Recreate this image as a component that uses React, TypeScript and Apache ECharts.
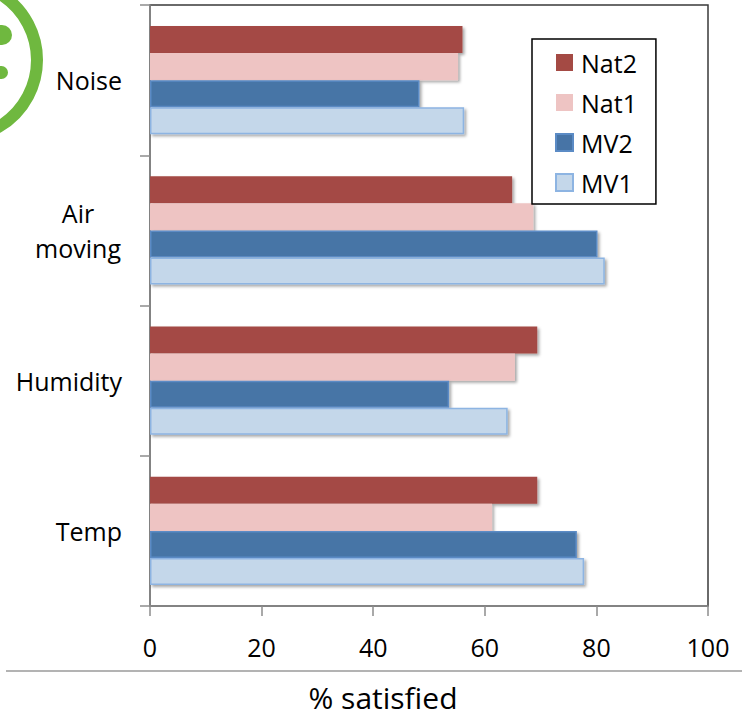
import React, { useEffect, useRef } from "react";
import * as echarts from "echarts";

const categories = ["Temp", "Humidity", "Air moving", "Noise"];
const mv1 = [77.8, 64.1, 81.5, 56.3];
const mv2 = [76.5, 53.6, 80.2, 48.3];
const nat1 = [61.3, 65.4, 68.7, 55.2];
const nat2 = [69.4, 69.4, 64.9, 56.0];
const xTicks = { min: 0, max: 100, interval: 20 };
const legendOrder = ["Nat2", "Nat1", "MV2", "MV1"];
const axisTitle = "% satisfied";

const FONT = "'Open Sans', 'Noto Sans', sans-serif";
const shadow = {
  shadowColor: "rgba(0,0,0,0.35)",
  shadowBlur: 3,
  shadowOffsetX: 2,
  shadowOffsetY: 2,
};

export default function App() {
  const ref = useRef<HTMLDivElement>(null);
  useEffect(() => {
    const chart = echarts.init(ref.current!, null, { renderer: "svg" });
    const mk = (name: string, data: number[], color: string, border?: string) => ({
      name,
      type: "bar",
      data,
      barGap: "0%",
      barCategoryGap: "28%",
      itemStyle: {
        color,
        borderColor: border || color,
        borderWidth: border ? 1.5 : 0,
        ...shadow,
      },
    });
    chart.setOption({
      animation: false,
      textStyle: { fontFamily: FONT },
      grid: {
        left: 150,
        right: 34,
        top: 5,
        bottom: 110,
        show: true,
        borderColor: "#3a3a3a",
        borderWidth: 1.5,
        backgroundColor: "transparent",
      },
      legend: {
        orient: "vertical",
        left: 532,
        top: 39,
        data: legendOrder,
        padding: [11, 19, 9, 23],
        borderColor: "#000",
        borderWidth: 1.5,
        itemWidth: 17,
        itemHeight: 17,
        itemGap: 15,
        icon: "rect",
        itemStyle: { shadowBlur: 0, shadowOffsetX: 0, shadowOffsetY: 0 },
        textStyle: { fontSize: 25, lineHeight: 25, color: "#000", fontFamily: FONT, padding: [0, 0, 0, 3] },
      },
      xAxis: {
        type: "value",
        min: xTicks.min,
        max: xTicks.max,
        interval: xTicks.interval,
        axisLine: { show: true, lineStyle: { color: "#8c8c8c", width: 1.5 } },
        axisTick: { show: true, length: 10, lineStyle: { color: "#8c8c8c", width: 1.5 } },
        splitLine: { show: false },
        axisLabel: { fontSize: 25, lineHeight: 25, color: "#000", margin: 28, fontFamily: FONT },
      },
      yAxis: {
        type: "category",
        data: categories,
        axisLine: { show: true, lineStyle: { color: "#8c8c8c", width: 1.5 } },
        axisTick: { show: true, length: 10, lineStyle: { color: "#8c8c8c", width: 1.5 } },
        axisLabel: {
          fontSize: 25,
          color: "#000",
          margin: 28,
          fontFamily: FONT,
          formatter: (v: string) => {
            if (v.indexOf(" ") >= 0) {
              const parts = v.split(" ");
              return parts.map((p) => `{c|${p}}`).join("\n");
            }
            return v;
          },
          rich: {
            c: { fontSize: 25, lineHeight: 35, width: 88, align: "center", color: "#000", fontFamily: FONT },
          },
        },
      },
      graphic: [
        {
          type: "circle",
          shape: { cx: -40.5, cy: 60, r: 77.5 },
          style: { fill: "none", stroke: "#6fb83f", lineWidth: 12 },
        },
        {
          type: "rect",
          shape: { x: -12, y: 25, width: 24, height: 20, r: 10 },
          style: { fill: "#6fb83f" },
        },
        {
          type: "rect",
          shape: { x: -12, y: 66, width: 20, height: 13, r: 6.5 },
          style: { fill: "#6fb83f" },
        },
        {
          type: "line",
          shape: { x1: 6, y1: 671, x2: 742, y2: 671 },
          style: { stroke: "#9a9a9a", lineWidth: 1.5 },
        },
        {
          type: "text",
          x: 383,
          y: 697,
          style: {
            text: axisTitle,
            fontSize: 30,
            fontFamily: FONT,
            fill: "#000",
            textAlign: "center",
            textVerticalAlign: "middle",
          },
        },
      ],
      series: [
        mk("Nat2", nat2, "#a44a44"),
        mk("Nat1", nat1, "#eec4c3"),
        mk("MV2", mv2, "#4774a6", "#5b8bc5"),
        mk("MV1", mv1, "#c4d7ea", "#8db4e2"),
      ],
    });
    return () => chart.dispose();
  }, []);
  return <div ref={ref} style={{ width: 742, height: 716, position: "absolute", left: 0, top: 0 }} />;
}
